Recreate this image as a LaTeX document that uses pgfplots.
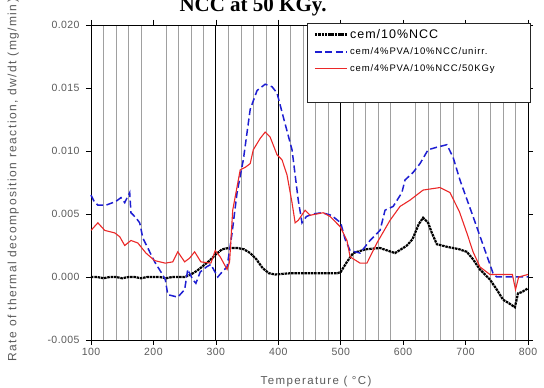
\documentclass[border=0pt]{standalone}
\usepackage{fontspec}
\setmainfont{Liberation Sans}
\newfontfamily\titlefont{Liberation Serif}
\usepackage{pgfplots}
\pgfplotsset{compat=1.18}
\definecolor{blueline}{RGB}{30,30,210}
\definecolor{redline}{RGB}{235,40,40}
\definecolor{gridgray}{RGB}{160,160,160}
\definecolor{ticktext}{RGB}{90,90,90}
\begin{document}
\begin{tikzpicture}[x=1pt,y=1pt]
\useasboundingbox (0,0) rectangle (544,388);
\clip (0,0) rectangle (544,388);
\node[anchor=base, font=\titlefont\bfseries\fontsize{21}{21}\selectfont] at (253,376) {NCC at 50 KGy.};
\begin{axis}[
  scale only axis, width=437pt, height=315pt, anchor=south west, at={(91pt,48pt)},
  xmin=100, xmax=800, ymin=-0.005, ymax=0.020,
  xtick={100,200,...,800}, ytick={-0.005,0,0.005,0.010,0.015,0.020},
  minor x tick num=4, minor tick length=0pt,
  xminorgrids, minor grid style={gridgray, line width=0.6pt},
  extra x ticks={300,400,500}, extra x tick labels={},
  extra x tick style={grid=major, major grid style={black, line width=0.8pt}},
  tick align=outside, major tick length=5pt,
  tick style={black, line width=0.6pt},
  axis line style={black, line width=0.7pt},
  scaled y ticks=false,
  /pgf/number format/assume math mode=true,
  yticklabel style={xshift=-3pt, /pgf/number format/.cd, fixed, fixed zerofill, precision=3},
  ticklabel style={font=\fontsize{10.5}{10.5}\selectfont\addfontfeature{LetterSpace=4}, text=ticktext},
  xlabel={Temperature ( \textdegree C)},
  xlabel style={at={(axis description cs:0.515,-0.133)}, anchor=center, font=\fontsize{11.5}{11.5}\selectfont\addfontfeature{LetterSpace=12}, text=ticktext},
  ylabel={Rate of thermal decomposition reaction, dw/dt (mg/min)},
  ylabel style={at={(axis description cs:-0.178,-0.079)}, anchor=west, font=\fontsize{12}{12}\selectfont\addfontfeature{LetterSpace=12}, text=ticktext},
  clip=false,
  legend image code/.code={\draw[#1] (0pt,0pt) -- (32pt,0pt);},
  legend style={draw=none, fill=none, at={(axis description cs:0.505,1.0)}, anchor=north west, row sep=4pt, inner sep=2pt},
  legend cell align=left,
]
\addplot[black, line width=2.2pt, dash pattern=on 2.5pt off 0.8pt] coordinates {
(100,0.0000)(110,0.0000)(120,-0.0001)(130,0.0000)(140,0.0000)(150,-0.0001)(160,0.0000)
(170,0.0000)(180,-0.0001)(190,0.0000)(200,0.0000)(210,0.0000)(220,-0.0001)(230,0.0000)
(240,0.0000)(250,0.0000)(260,0.0002)(270,0.0005)(280,0.0009)(290,0.0013)(300,0.0018)
(310,0.0022)(320,0.0023)(335,0.0023)(345,0.0022)(355,0.0019)(365,0.0014)(375,0.0007)
(385,0.0003)(395,0.0002)(420,0.0003)(440,0.0003)(460,0.0003)(480,0.0003)(495,0.0003)
(500,0.0004)(510,0.0012)(520,0.0019)(540,0.0022)(563,0.0023)(575,0.0021)(587,0.0019)
(600,0.0023)(606,0.0025)(615,0.0030)(625,0.0042)(632,0.0047)(640,0.0043)(646,0.0035)
(654,0.0026)(670,0.0024)(690,0.0022)(702,0.0020)(712,0.0014)(723,0.0006)(739,-0.0002)
(750,-0.0010)(760,-0.0018)(770,-0.0021)(779,-0.0024)(784,-0.0013)(790,-0.0012)(800,-0.0009)
};
\addlegendentry{\fontsize{12.5}{12.5}\selectfont\addfontfeature{LetterSpace=8}cem/10\%NCC}
\addplot[blueline, line width=1.5pt, dash pattern=on 7pt off 3.5pt] coordinates {
(100,0.0065)(105,0.0060)(111,0.0057)(124,0.0057)(140,0.0060)(148,0.0063)(154,0.0059)
(162,0.0067)(164,0.0051)(172,0.0047)(178,0.0043)(183,0.0031)(192,0.0022)(202,0.0012)
(212,0.0004)(219,-0.0002)(223,-0.0014)(239,-0.0016)(250,-0.0010)(255,0.0006)(263,-0.0002)
(268,-0.0005)(275,0.0004)(285,0.0008)(292,0.0010)(303,0.0000)(310,0.0004)(318,0.0008)
(326,0.0035)(334,0.0067)(344,0.0093)(355,0.0133)(366,0.0148)(379,0.0153)(390,0.0151)
(398,0.0146)(408,0.0127)(422,0.0101)(432,0.0061)(438,0.0043)(445,0.0048)(455,0.0050)
(470,0.0051)(485,0.0049)(495,0.0045)(500,0.0043)(507,0.0030)(515,0.0021)(531,0.0019)
(547,0.0029)(563,0.0037)(571,0.0053)(584,0.0056)(598,0.0067)(603,0.0077)(616,0.0083)
(627,0.0090)(640,0.0101)(654,0.0103)(670,0.0105)(680,0.0095)(691,0.0077)(712,0.0048)
(739,0.0010)(744,0.0003)(750,0.0000)(800,0.0000)
};
\addlegendentry{\fontsize{9.5}{9.5}\selectfont\addfontfeature{LetterSpace=9}cem/4\%PVA/10\%NCC/unirr.}
\addplot[redline, line width=1.1pt] coordinates {
(100,0.0037)(111,0.0043)(122,0.0037)(138,0.0035)(146,0.0032)(154,0.0025)(164,0.0029)
(175,0.0027)(188,0.0019)(202,0.0013)(219,0.0011)(231,0.0012)(239,0.0020)(250,0.0012)
(258,0.0015)(266,0.0020)(276,0.0012)(292,0.0011)(299,0.0021)(307,0.0016)(318,0.0006)
(322,0.0012)(327,0.0053)(339,0.0085)(347,0.0087)(355,0.0090)(360,0.0101)(371,0.0110)
(379,0.0115)(387,0.0111)(398,0.0097)(406,0.0093)(414,0.0081)(422,0.0059)(427,0.0043)
(432,0.0045)(443,0.0053)(451,0.0049)(472,0.0051)(483,0.0048)(499,0.0040)(510,0.0029)
(515,0.0016)(531,0.0011)(542,0.0011)(558,0.0027)(579,0.0045)(595,0.0056)(611,0.0061)
(632,0.0069)(659,0.0071)(675,0.0067)(690,0.0052)(702,0.0035)(712,0.0020)(723,0.0008)
(739,0.0002)(775,0.0002)(780,-0.0010)(785,0.0000)(800,0.0002)
};
\addlegendentry{\fontsize{9.5}{9.5}\selectfont\addfontfeature{LetterSpace=9}cem/4\%PVA/10\%NCC/50KGy}
\draw[fill=white, line width=0.7pt, draw=black!85] (axis cs:446,0.0201) rectangle (axis cs:803,0.0139);
\end{axis}
\end{tikzpicture}
\end{document}
